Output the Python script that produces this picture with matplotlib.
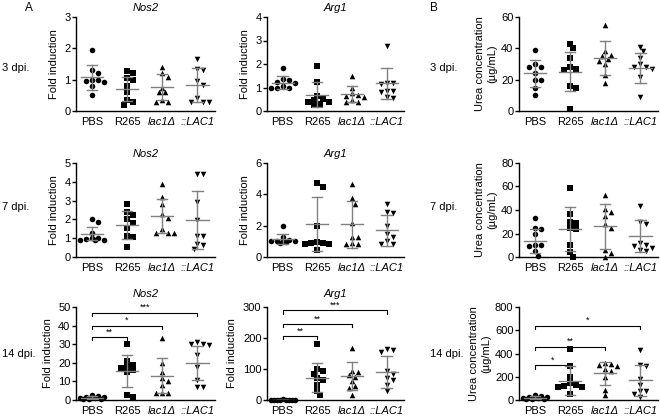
import numpy as np
import matplotlib.pyplot as plt

plt.rcParams['font.family'] = ['Liberation Sans', 'DejaVu Sans']
plt.rcParams['font.size'] = 8

groups = ['PBS', 'R265', 'lac1Δ', '::LAC1']
markers = ['o', 's', '^', 'v']

# ---- 3 dpi ----
nos2_d3 = [[1.95, 1.3, 1.2, 1.0, 0.97, 0.93, 1.0, 0.8, 0.52],
           [1.27, 1.2, 1.05, 1.0, 0.8, 0.6, 0.35, 0.3, 0.2],
           [1.42, 1.2, 1.1, 0.75, 0.6, 0.6, 0.35, 0.3, 0.3],
           [1.65, 1.35, 1.3, 0.95, 0.82, 0.4, 0.3, 0.3, 0.3]]
nos2_d3_mean = [1.07, 0.69, 0.76, 0.83]
nos2_d3_sd = [0.40, 0.38, 0.42, 0.54]

arg1_d3 = [[1.85, 1.35, 1.3, 1.25, 1.2, 1.05, 1.0, 1.0, 1.0],
           [1.9, 1.25, 0.65, 0.5, 0.45, 0.4, 0.4, 0.3, 0.25],
           [1.48, 1.0, 0.75, 0.7, 0.65, 0.6, 0.45, 0.4, 0.4],
           [2.75, 1.2, 1.2, 1.15, 0.85, 0.85, 0.8, 0.6, 0.55]]
arg1_d3_mean = [1.21, 0.70, 0.72, 1.18]
arg1_d3_sd = [0.27, 0.55, 0.34, 0.65]

urea_d3 = [[39, 30, 28, 28, 24, 20, 20, 15, 10],
           [43, 40, 34, 28, 27, 26, 16, 15, 1.5],
           [55, 38, 36, 35, 33, 32, 30, 23, 18],
           [41, 38, 34, 30, 28, 28, 27, 22, 9]]
urea_d3_mean = [24, 25, 34, 27.5]
urea_d3_sd = [8.5, 12.5, 11, 9.5]

# ---- 7 dpi ----
nos2_d7 = [[2.0, 1.85, 1.3, 1.0, 1.0, 0.95, 0.9, 0.9, 0.9],
           [2.8, 2.4, 2.25, 2.0, 1.8, 1.55, 1.1, 1.05, 0.55],
           [3.9, 3.2, 2.8, 2.3, 2.1, 1.5, 1.3, 1.3, 1.3],
           [4.4, 4.4, 2.95, 1.95, 1.1, 1.1, 0.7, 0.65, 0.45]]
nos2_d7_mean = [1.25, 1.7, 2.2, 1.95]
nos2_d7_sd = [0.35, 0.75, 0.9, 1.55]

arg1_d7 = [[1.95, 1.3, 1.1, 1.05, 1.0, 1.0, 1.0, 0.95, 0.9],
           [4.7, 4.45, 1.95, 0.95, 0.9, 0.9, 0.85, 0.8, 0.45],
           [4.65, 3.75, 3.4, 2.2, 1.3, 1.3, 0.9, 0.8, 0.8],
           [3.4, 2.85, 2.8, 2.0, 1.5, 1.3, 1.0, 0.8, 0.8]]
arg1_d7_mean = [1.13, 2.1, 2.1, 1.7]
arg1_d7_sd = [0.32, 1.7, 1.5, 0.97]

urea_d7 = [[33, 25, 24, 20, 10, 10, 9, 5, 0.5],
           [59, 37, 30, 29, 25, 24, 10, 4, 0],
           [53, 41, 38, 35, 28, 25, 6, 3, 0],
           [43, 30, 28, 12, 10, 9, 8, 6, 5]]
urea_d7_mean = [13.5, 24, 26, 18]
urea_d7_sd = [10.5, 18.5, 19, 13.5]

# ---- 14 dpi ----
nos2_d14 = [[2.5, 2, 1.8, 1.5, 1.2, 1.0, 0.8, 0.6, 0.5],
            [30, 21, 19, 18, 17, 16, 15, 2.5, 1.5],
            [33.5, 20, 15, 12, 10, 8, 4, 4, 3.5],
            [31, 30, 30, 29.5, 24, 18, 11, 7, 7]]
nos2_d14_mean = [1.3, 15.5, 13, 20]
nos2_d14_sd = [0.6, 8.5, 9.5, 9.3]
nos2_d14_brackets = [34, 40, 47]
nos2_d14_stars = ['**', '*', '***']

arg1_d14 = [[2, 1.5, 1.2, 1, 1, 0.8, 0.7, 0.5, 0.5],
            [180, 100, 95, 85, 70, 65, 50, 30, 15],
            [168, 95, 90, 80, 75, 60, 45, 40, 15],
            [165, 160, 155, 95, 85, 70, 65, 50, 30]]
arg1_d14_mean = [1, 72, 77, 91]
arg1_d14_sd = [0.5, 46, 45, 51]
arg1_d14_brackets = [207, 246, 289]
arg1_d14_stars = ['**', '**', '***']

urea_d14 = [[45, 35, 30, 25, 20, 15, 10, 10, 5],
            [440, 295, 200, 150, 130, 120, 110, 110, 50],
            [320, 310, 300, 290, 270, 250, 200, 90, 40],
            [430, 300, 290, 180, 130, 80, 80, 50, 30]]
urea_d14_mean = [20, 165, 228, 170]
urea_d14_sd = [12, 125, 103, 135]
urea_d14_brackets = [297, 460, 640]
urea_d14_stars = ['*', '**', '*']

W, H = 660, 418
fig = plt.figure(figsize=(W / 100, H / 100), dpi=100)

col_x = [(76, 215), (267, 404), (519, 658)]
row_y = [(17, 111), (163, 257), (307, 400)]


def swarm(vals, ymax, h_px, px_per_x, diam=5.5, step=3.0, maxoff=12.0):
    """greedy beeswarm with a width cap, returns x offsets in data units"""
    ypx = np.asarray(vals, float) / ymax * h_px
    cands = [0.0]
    k = 1
    while k * step <= maxoff:
        cands += [k * step, -k * step]
        k += 1
    placed = []
    offs = np.zeros(len(vals))
    for i in np.argsort(-ypx):
        best, best_d = None, -1
        for c in cands:
            d = min([np.hypot(c - px, ypx[i] - py) for px, py in placed] or [99])
            if d >= diam:
                best = c
                break
            if d > best_d:
                best, best_d = c, d
        placed.append((best, ypx[i]))
        offs[i] = best / px_per_x
    return offs


def panel(r, c, data, means, sds, ymax, ystep, title=None, urea=False,
          brackets=None, stars=None):
    x0, x1 = col_x[c]
    ytop, ybot = row_y[r]
    ax = fig.add_axes([x0 / W, 1 - ybot / H, (x1 - x0) / W, (ybot - ytop) / H])
    xlim = (-0.45, 3.5)
    px_per_x = (x1 - x0) / (xlim[1] - xlim[0])
    for i, vals in enumerate(data):
        offs = swarm(vals, ymax, ybot - ytop, px_per_x)
        ax.scatter(i + offs, vals, marker=markers[i], s=16, color='black',
                   linewidths=0, clip_on=False, zorder=3)
        m, s = means[i], sds[i]
        ax.plot([i - 0.32, i + 0.32], [m, m], color='#808080', lw=1, zorder=4)
        ax.plot([i, i], [m - s, m + s], color='#808080', lw=1, zorder=4)
        for v in (m - s, m + s):
            ax.plot([i - 0.15, i + 0.15], [v, v], color='#808080', lw=1, zorder=4)
    ax.set_xlim(*xlim)
    ax.set_ylim(0, ymax)
    ax.set_yticks(np.arange(0, ymax + ystep / 2, ystep))
    ax.set_xticks(range(4))
    ax.set_xticklabels(groups, fontsize=8)
    for lbl in ax.get_xticklabels()[2:]:
        lbl.set_fontstyle('italic')
    ax.tick_params(axis='y', length=3, width=1, labelsize=8, pad=1)
    ax.tick_params(axis='x', length=0, pad=4)
    for sp in ['top', 'right']:
        ax.spines[sp].set_visible(False)
    for sp in ['left', 'bottom']:
        ax.spines[sp].set_linewidth(1)
    if urea:
        ax.set_ylabel('Urea concentration\n(µg/mL)', fontsize=8, labelpad=3)
    else:
        ax.set_ylabel('Fold induction', fontsize=8, labelpad=4)
    if title:
        ax.set_title(title, fontsize=8, fontstyle='italic',
                     pad=7 if brackets else 4)
    if brackets:
        drop = ymax * 0.035
        for j, (yb, st) in enumerate(zip(brackets, stars)):
            xe = j + 1
            ax.plot([0, 0, xe, xe], [yb - drop, yb, yb, yb - drop],
                    color='black', lw=0.8, clip_on=False)
            ax.text(xe / 2, yb + ymax * 0.005, st, ha='center', va='bottom',
                    fontsize=6.5, clip_on=False)
    return ax


panel(0, 0, nos2_d3, nos2_d3_mean, nos2_d3_sd, 3, 1, 'Nos2')
panel(0, 1, arg1_d3, arg1_d3_mean, arg1_d3_sd, 4, 1, 'Arg1')
panel(0, 2, urea_d3, urea_d3_mean, urea_d3_sd, 60, 20, urea=True)

panel(1, 0, nos2_d7, nos2_d7_mean, nos2_d7_sd, 5, 1, 'Nos2')
panel(1, 1, arg1_d7, arg1_d7_mean, arg1_d7_sd, 6, 2, 'Arg1')
panel(1, 2, urea_d7, urea_d7_mean, urea_d7_sd, 80, 20, urea=True)

panel(2, 0, nos2_d14, nos2_d14_mean, nos2_d14_sd, 50, 10, 'Nos2',
      brackets=nos2_d14_brackets, stars=nos2_d14_stars)
panel(2, 1, arg1_d14, arg1_d14_mean, arg1_d14_sd, 300, 100, 'Arg1',
      brackets=arg1_d14_brackets, stars=arg1_d14_stars)
panel(2, 2, urea_d14, urea_d14_mean, urea_d14_sd, 800, 200, urea=True,
      brackets=urea_d14_brackets, stars=urea_d14_stars)

# panel letters and row labels
fig.text(25 / W, 1 - 8 / H, 'A', fontsize=8.5, ha='left', va='center')
fig.text(430 / W, 1 - 8 / H, 'B', fontsize=8.5, ha='left', va='center')
for lbl, yy in zip(['3 dpi.', '7 dpi.', '14 dpi.'], [68, 207, 354]):
    fig.text(2 / W, 1 - yy / H, lbl, fontsize=8, ha='left', va='center')
    fig.text(430 / W, 1 - yy / H, lbl, fontsize=8, ha='left', va='center')

fig.savefig('out.png', dpi=100)
